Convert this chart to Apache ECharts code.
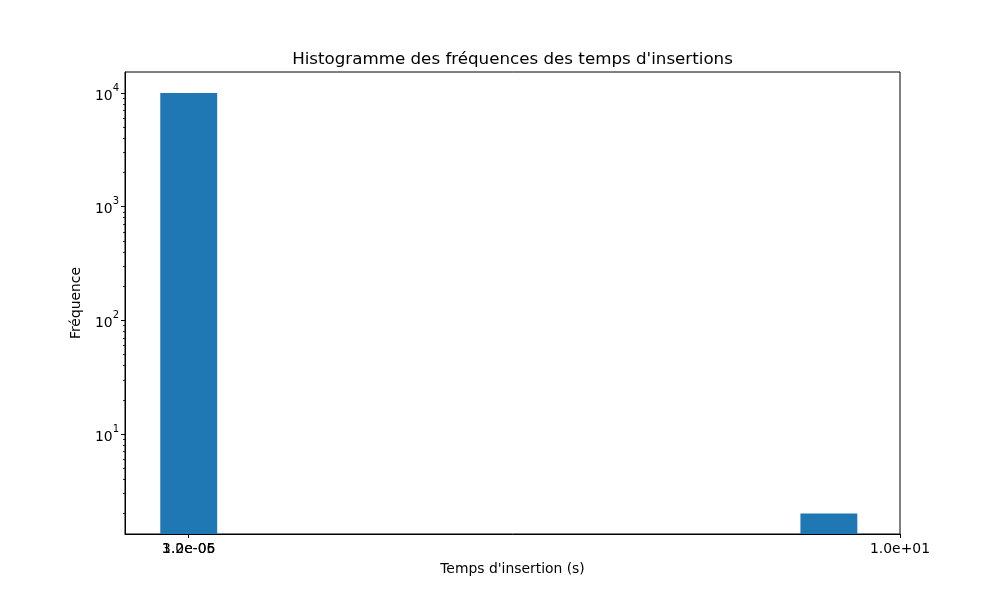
<!DOCTYPE html>
<html>
<head>
<meta charset="utf-8">
<script src="https://cdn.jsdelivr.net/npm/echarts@6/dist/echarts.min.js"></script>
<style>
  html, body { margin: 0; padding: 0; background: #fff; }
  #chart { width: 1000px; height: 600px; }
</style>
</head>
<body>
<div id="chart"></div>
<script>
  // histogram bins (align left: bars centred on the left bin edge), counts per bin
  const binLeft = [0, 1, 2, 3, 4, 5, 6, 7, 8, 9];
  const counts = [9998, 0, 0, 0, 0, 0, 0, 0, 0, 2];
  const barWidthUnits = 0.8;

  // x ticks: two labels nearly on top of each other near 0, one at the max
  const xTicksA = [3.2e-6, 10];
  const xTicksB = [1.0e-5];
  const yMajor = [10, 100, 1000, 10000];
  const yMinor = [2, 3, 4, 5, 6, 7, 8, 9, 20, 30, 40, 50, 60, 70, 80, 90,
    200, 300, 400, 500, 600, 700, 800, 900, 2000, 3000, 4000, 5000, 6000, 7000, 8000, 9000];

  const xMin = -0.896, xMax = 10.0;
  const yMin = 1.32, yMax = 15280;

  const FONT = 'DejaVu Sans';
  const BLUE = '#1f77b4';
  const TICK_FS = 13.9;

  function sci(v) {
    const s = v.toExponential(1);
    const [m, e] = s.split('e');
    const sign = e[0] === '-' ? '-' : '+';
    const d = e.replace(/^[+-]/, '');
    return m + 'e' + sign + (d.length < 2 ? '0' + d : d);
  }

  function xAxisBase(ticks, extra) {
    return Object.assign({
      type: 'value',
      min: xMin, max: xMax,
      position: 'bottom',
      axisLine: { show: false, onZero: false },
      axisTick: { show: true, length: 4, customValues: ticks, lineStyle: { color: '#000', width: 1 } },
      axisLabel: {
        customValues: ticks,
        formatter: (v) => sci(v),
        fontFamily: FONT, fontSize: TICK_FS, color: '#000', margin: 8,
        showMinLabel: true, showMaxLabel: true, hideOverlap: false
      },
      splitLine: { show: false }
    }, extra || {});
  }

  const chart = echarts.init(document.getElementById('chart'), null, { renderer: 'canvas' });

  const option = {
    backgroundColor: '#fff',
    animation: false,
    title: {
      text: "Histogramme des fréquences des temps d'insertions",
      left: 507.5,
      top: 46,
      textAlign: 'center',
      textStyle: { fontFamily: FONT, fontSize: 16.7, fontWeight: 'normal', color: '#000' }
    },
    grid: {
      left: 125, right: 100, top: 72, bottom: 66,
      show: true, borderColor: '#000', borderWidth: 1, backgroundColor: 'transparent'
    },
    xAxis: [
      xAxisBase(xTicksA, {
        name: "Temps d'insertion (s)",
        nameLocation: 'middle',
        nameGap: 28,
        nameTextStyle: { fontFamily: FONT, fontSize: TICK_FS, color: '#000' },
        axisLine: { show: true, onZero: false, lineStyle: { color: '#000', width: 1 } }
      }),
      xAxisBase(xTicksB)
    ],
    yAxis: [{
      type: 'log',
      logBase: 10,
      min: yMin, max: yMax,
      position: 'left',
      name: 'Fréquence',
      nameLocation: 'middle',
      nameGap: 42,
      nameTextStyle: { fontFamily: FONT, fontSize: TICK_FS, color: '#000' },
      axisLine: { show: true, onZero: false, lineStyle: { color: '#000', width: 1 } },
      axisTick: { show: true, length: 4, customValues: yMajor, lineStyle: { color: '#000', width: 1 } },
      axisLabel: {
        customValues: yMajor,
        formatter: (v) => '{b|10}{s|' + Math.round(Math.log10(v)) + '}',
        margin: 6,
        rich: {
          b: { fontFamily: FONT, fontSize: TICK_FS, color: '#000', verticalAlign: 'bottom', lineHeight: 20 },
          s: { fontFamily: FONT, fontSize: 10, color: '#000', verticalAlign: 'top', lineHeight: 20, padding: [0, 0, 6, 0] }
        }
      },
      splitLine: { show: false }
    }, {
      type: 'log',
      logBase: 10,
      min: yMin, max: yMax,
      position: 'left',
      axisLine: { show: false, onZero: false },
      axisTick: { show: true, length: 2, customValues: yMinor, lineStyle: { color: '#000', width: 0.8 } },
      axisLabel: { show: false },
      splitLine: { show: false }
    }],
    series: [{
      type: 'custom',
      clip: true,
      data: binLeft.map((x, i) => [x, counts[i]]),
      encode: { x: 0, y: 1 },
      renderItem: (params, api) => {
        const x = api.value(0);
        const y = api.value(1);
        if (!(y > 0)) return null;
        const p0 = api.coord([x - barWidthUnits / 2, yMin]);
        const p1 = api.coord([x + barWidthUnits / 2, y]);
        return {
          type: 'rect',
          shape: { x: p0[0], y: p1[1], width: p1[0] - p0[0], height: p0[1] - p1[1] },
          style: { fill: BLUE }
        };
      }
    }]
  };

  chart.setOption(option);
</script>
</body>
</html>
